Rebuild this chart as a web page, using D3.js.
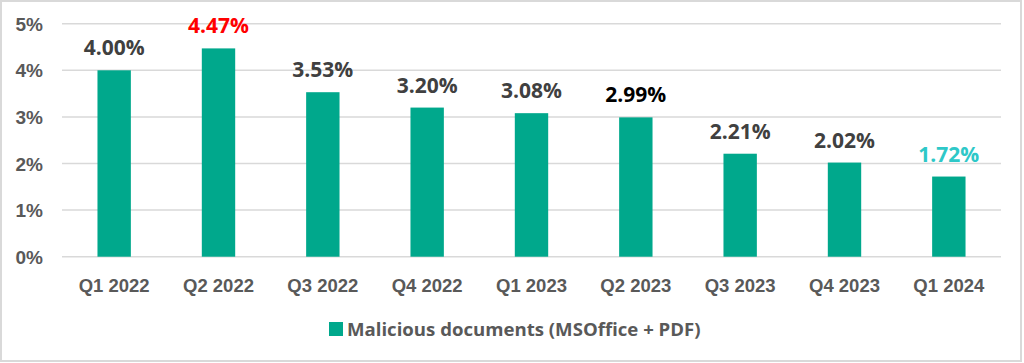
<!DOCTYPE html>
<meta charset="utf-8">
<html>
<head>
  <style>
    body { margin: 0; background: #fff; }
    svg { display: block; font-family: "Open Sans", "Noto Sans", sans-serif; }
    .grid line { stroke: #d9d9d9; stroke-width: 1.5; }
    .bar { fill: #00a88c; }
    .tick text { fill: #595959; font-weight: bold; }
  </style>
  <script src="https://d3js.org/d3.v7.min.js"></script>
</head>
<body>
  <svg width="1024" height="363"></svg>
  <script>
    // chart data
    var quarters = ["Q1 2022", "Q2 2022", "Q3 2022", "Q4 2022", "Q1 2023",
                    "Q2 2023", "Q3 2023", "Q4 2023", "Q1 2024"];
    var shares = [4.00, 4.47, 3.53, 3.20, 3.08, 2.99, 2.21, 2.02, 1.72];
    var labelColors = ["#404040", "#ff0000", "#404040", "#404040", "#404040",
                       "#000000", "#404040", "#404040", "#2ec8c8"];
    var yTicks = [0, 1, 2, 3, 4, 5];
    var seriesName = "Malicious documents (MSOffice + PDF)";

    var svg = d3.select("svg");

    // outer frame
    svg.append("rect")
       .attr("x", 1).attr("y", 1)
       .attr("width", 1020).attr("height", 360)
       .attr("fill", "none")
       .attr("stroke", "#d9d9d9")
       .attr("stroke-width", 2);

    var plotLeft = 62, plotRight = 1001, plotTop = 23.7, plotBottom = 256.7;

    var x = d3.scaleBand().domain(quarters).range([plotLeft, plotRight]).paddingInner(0.68).paddingOuter(0.34);
    var y = d3.scaleLinear().domain([0, 5]).range([plotBottom, plotTop]);

    // gridlines
    svg.append("g")
       .attr("class", "grid")
       .selectAll("line")
       .data(yTicks)
       .enter().append("line")
       .attr("x1", plotLeft).attr("x2", plotRight)
       .attr("y1", function(d) { return y(d); })
       .attr("y2", function(d) { return y(d); });

    // y axis
    var yAxis = svg.append("g")
       .attr("transform", "translate(" + 43 + ",0)")
       .call(d3.axisLeft(y).tickValues(yTicks).tickSize(0).tickPadding(0)
             .tickFormat(function(d) { return d + "%"; }));
    yAxis.select(".domain").remove();
    yAxis.selectAll("text").attr("font-size", "19px").attr("dy", "0.35em");

    // x axis
    var xAxis = svg.append("g")
       .attr("transform", "translate(0," + plotBottom + ")")
       .call(d3.axisBottom(x).tickSize(0).tickPadding(22));
    xAxis.select(".domain").remove();
    xAxis.selectAll("text").attr("font-size", "18.5px");

    // bars
    svg.selectAll(".bar")
       .data(shares)
       .enter().append("rect")
       .attr("class", "bar")
       .attr("x", function(d, i) { return x(quarters[i]); })
       .attr("y", function(d) { return y(d); })
       .attr("width", x.bandwidth())
       .attr("height", function(d) { return plotBottom - y(d); });

    // value labels
    svg.selectAll(".val")
       .data(shares)
       .enter().append("text")
       .attr("class", "val")
       .attr("x", function(d, i) { return x(quarters[i]) + x.bandwidth() / 2; })
       .attr("y", function(d) { return y(d) - 15; })
       .attr("text-anchor", "middle")
       .attr("font-size", "21px")
       .attr("font-weight", "bold")
       .attr("fill", function(d, i) { return labelColors[i]; })
       .text(function(d) { return d.toFixed(2) + "%"; });

    // legend
    var legend = svg.append("g").attr("transform", "translate(329,322)");
    legend.append("rect")
       .attr("width", 14).attr("height", 14)
       .attr("fill", "#00a88c");
    legend.append("text")
       .attr("x", 18).attr("y", 14)
       .attr("font-size", "18.6px")
       .attr("font-weight", "bold")
       .attr("fill", "#595959")
       .text(seriesName);
  </script>
</body>
</html>
